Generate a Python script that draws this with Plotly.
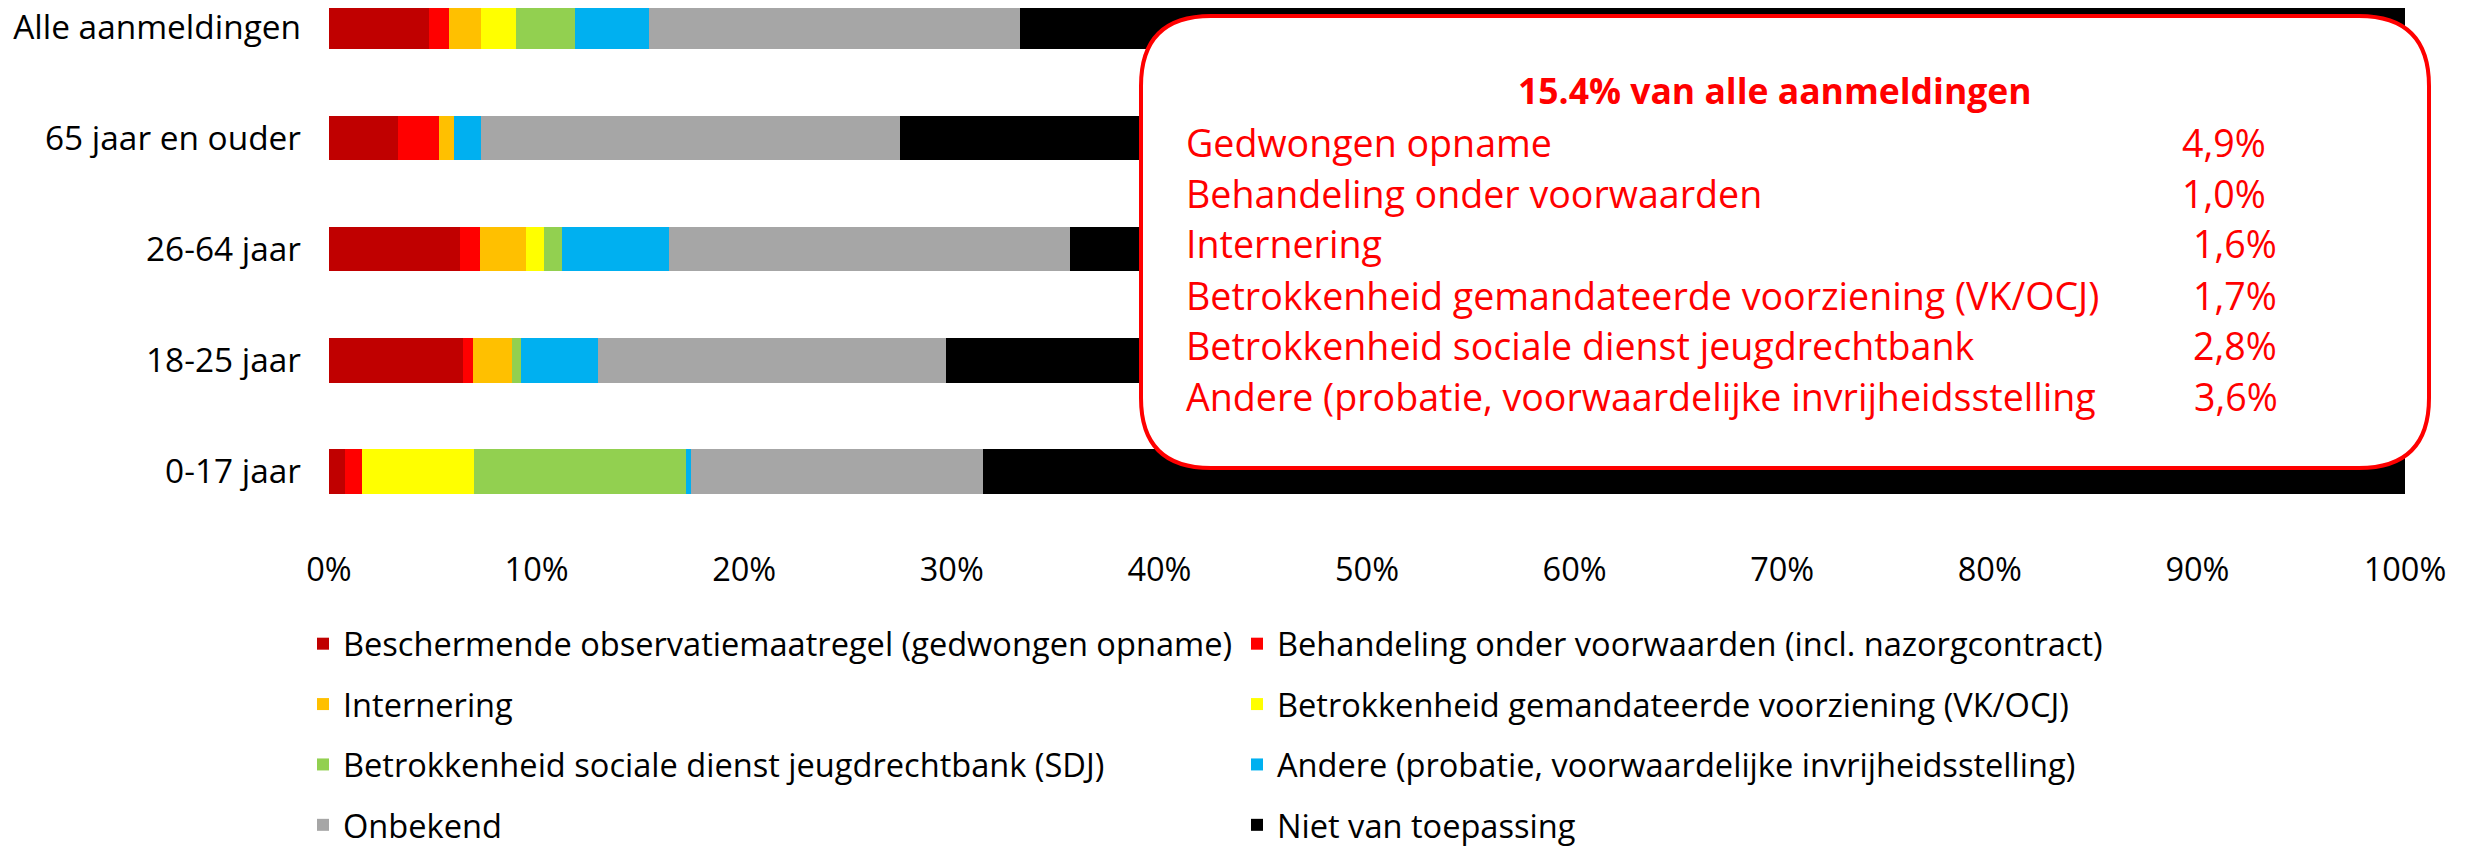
import plotly.graph_objects as go

# ---------------- data ----------------
categories = ["Alle aanmeldingen", "65 jaar en ouder", "26-64 jaar", "18-25 jaar", "0-17 jaar"]

series_names = [
    "Beschermende observatiemaatregel (gedwongen opname)",
    "Behandeling onder voorwaarden (incl. nazorgcontract)",
    "Internering",
    "Betrokkenheid gemandateerde voorziening (VK/OCJ)",
    "Betrokkenheid sociale dienst jeugdrechtbank (SDJ)",
    "Andere (probatie, voorwaardelijke invrijheidsstelling)",
    "Onbekend",
    "Niet van toepassing",
]
bom = [4.8, 3.3, 6.3, 6.47, 0.79]
bov = [0.96, 2.0, 0.95, 0.47, 0.78]
internering = [1.57, 0.7, 2.25, 1.86, 0.0]
vk_ocj = [1.67, 0.0, 0.85, 0.0, 5.41]
sdj = [2.85, 0.0, 0.85, 0.47, 10.22]
andere = [3.55, 1.33, 5.2, 3.69, 0.25]
onbekend = [17.9, 20.17, 19.3, 16.74, 14.05]
niet = [66.7, 72.5, 64.3, 70.3, 68.5]
series_values = [bom, bov, internering, vk_ocj, sdj, andere, onbekend, niet]
colors = ["#C00000", "#FF0000", "#FFC000", "#FFFF00", "#92D050", "#00B0F0", "#A6A6A6", "#000000"]

x_ticks = [0, 10, 20, 30, 40, 50, 60, 70, 80, 90, 100]
x_tick_labels = [f"{t}%" for t in x_ticks]

box_title = "15.4% van alle aanmeldingen"
box_labels = ["Gedwongen opname", "Behandeling onder voorwaarden", "Internering",
              "Betrokkenheid gemandateerde voorziening (VK/OCJ)",
              "Betrokkenheid sociale dienst jeugdrechtbank",
              "Andere (probatie, voorwaardelijke invrijheidsstelling"]
box_values = ["4,9%", "1,0%", "1,6%", "1,7%", "2,8%", "3,6%"]

# ---------------- layout constants ----------------
W, H = 2471, 848
OFF = 8  # page body margin offset
S_LEFT, S_RIGHT, S_TOP, S_BOTTOM = 329, 2405, 8, 527  # plot area on screen
ML = S_LEFT - OFF
MR = W - (S_RIGHT - OFF)
MT = S_TOP - OFF
MB = H - (S_BOTTOM - OFF)
PW = S_RIGHT - S_LEFT
PH = S_BOTTOM - S_TOP
FONT = "Open Sans"


def px_x(p):
    return (p - S_LEFT) / PW


def px_y(p):
    return 1 - (p - S_TOP) / PH


legend_col = [0, 1, 0, 1, 0, 1, 0, 1]

fig = go.Figure()
for i, (name, vals, col) in enumerate(zip(series_names, series_values, colors)):
    fig.add_trace(go.Bar(
        y=categories, x=vals, name=name, orientation="h",
        marker=dict(color=col, line=dict(width=0)),
        legend="legend" if legend_col[i] == 0 else "legend2",
        legendgroup=f"g{i}",
        hoverinfo="x+name",
    ))

# rounded info box
x0, x1 = px_x(1141), px_x(2429)
y0, y1 = px_y(468), px_y(16)
rx, ry = 70 / PW, 70 / PH
path = (f"M {x0+rx},{y1} L {x1-rx},{y1} Q {x1},{y1} {x1},{y1-ry} "
        f"L {x1},{y0+ry} Q {x1},{y0} {x1-rx},{y0} "
        f"L {x0+rx},{y0} Q {x0},{y0} {x0},{y0+ry} "
        f"L {x0},{y1-ry} Q {x0},{y1} {x0+rx},{y1} Z")
fig.add_shape(type="path", path=path, xref="paper", yref="paper",
              line=dict(color="#FF0000", width=4), fillcolor="white", layer="above")

annotations = [dict(text=f"<b>{box_title}</b>", x=px_x(1775), y=px_y(90),
                    xref="paper", yref="paper", showarrow=False, xanchor="center",
                    yanchor="middle", font=dict(family=FONT, size=35.5, color="#FF0000"))]
line_y = [143, 194, 244, 295, 345, 396]
val_x = [2180, 2180, 2191, 2191, 2191, 2192]
for lab, val, yy, vx in zip(box_labels, box_values, line_y, val_x):
    annotations.append(dict(text=lab, x=px_x(1184), y=px_y(yy), xref="paper", yref="paper",
                            showarrow=False, xanchor="left", yanchor="middle",
                            font=dict(family=FONT, size=37.6, color="#FF0000")))
    annotations.append(dict(text=val, x=px_x(vx), y=px_y(yy), xref="paper", yref="paper",
                            showarrow=False, xanchor="left", yanchor="middle",
                            font=dict(family=FONT, size=37.6, color="#FF0000")))

legend_common = dict(orientation="v", traceorder="grouped", tracegroupgap=15,
                     font=dict(family=FONT, size=32.6, color="#000000"),
                     bgcolor="rgba(0,0,0,0)", xref="container", yref="container",
                     xanchor="left", yanchor="top")

fig.update_layout(
    width=W, height=H,
    margin=dict(l=ML, r=MR, t=MT, b=MB, pad=0, autoexpand=False),
    barmode="stack", bargap=0.6,
    plot_bgcolor="white", paper_bgcolor="white",
    font=dict(family=FONT, size=32, color="#000000"),
    xaxis=dict(range=[0, 100], tickvals=x_ticks, ticktext=x_tick_labels,
               showgrid=False, zeroline=False, showline=False, ticks="",
               ticklabelstandoff=20, automargin=False,
               tickfont=dict(family=FONT, size=32.5, color="#000000")),
    yaxis=dict(categoryorder="array", categoryarray=categories[::-1],
               range=[-0.5, 4.171], showgrid=False, zeroline=False, showline=False,
               ticks="", ticklabelstandoff=27, automargin=False,
               tickfont=dict(family=FONT, size=33.4, color="#000000")),
    legend=dict(x=295 / W, y=1 - 608 / H, **legend_common),
    legend2=dict(x=1229 / W, y=1 - 608 / H, **legend_common),
    annotations=annotations,
    showlegend=True,
)

fig.write_html("out.html")
